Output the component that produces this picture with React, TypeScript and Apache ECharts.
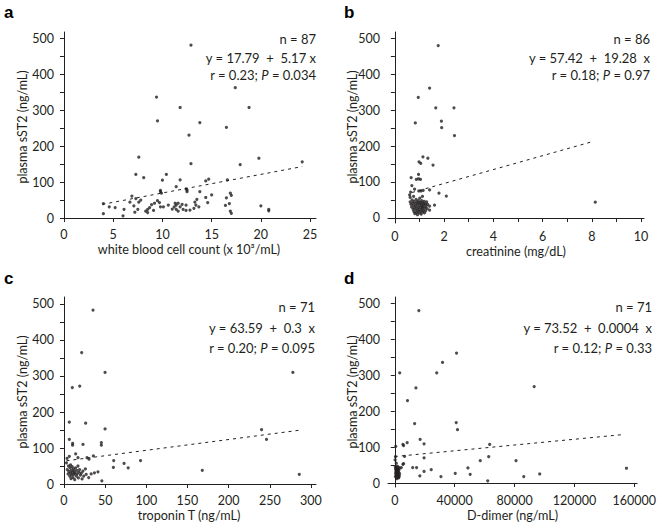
import React, { useEffect, useRef } from "react";
import * as echarts from "echarts";

// ---------- data ----------
const wbcPoints: number[][] = [
  [12.9, 480], [9.4, 336], [11.8, 307], [17.4, 362], [18.8, 307], [9.5, 270], [13.8, 265], [16.5, 252],
  [12.7, 230], [7.6, 169], [19.8, 166], [12.9, 151], [17.9, 148], [24.2, 156], [7.3, 121], [8.1, 112],
  [10.4, 121], [10.0, 105], [11.8, 106], [14.4, 103], [14.7, 108], [16.6, 106], [11.4, 87], [12.4, 81],
  [12.5, 73], [9.8, 73], [9.9, 69], [13.8, 73], [15.0, 64], [16.9, 69], [17.0, 63], [16.5, 56],
  [14.4, 57], [14.6, 43], [16.4, 35], [16.8, 40], [16.9, 19], [17.0, 13], [20.0, 34], [20.8, 24],
  [20.8, 20], [4.0, 40], [4.6, 31], [4.0, 12], [6.1, 24], [6.0, 6], [6.9, 61], [6.7, 44],
  [7.3, 54], [7.6, 44], [7.8, 50], [7.2, 16], [7.5, 24], [8.5, 24], [8.5, 15], [8.7, 29],
  [8.9, 37], [9.2, 41], [9.5, 48], [9.7, 43], [9.1, 21], [9.8, 31], [10.1, 31], [11.3, 41],
  [11.2, 31], [11.4, 24], [11.6, 41], [11.0, 25], [11.6, 19], [12.0, 38], [12.4, 36], [12.1, 24],
  [12.8, 22], [13.3, 44], [13.4, 36], [13.2, 27], [13.5, 52], [12.4, 21], [9.8, 77], [7.1, 34],
  [5.2, 29], [8.3, 19], [10.6, 36], [11.4, 36], [12.5, 78], [11.8, 31], [13.7, 31],
];

const creatininePoints: number[][] = [
  [1.76, 479], [1.41, 361], [0.95, 335], [1.66, 306], [2.4, 306], [0.83, 264], [1.89, 269], [1.9, 251],
  [2.42, 229], [1.14, 170], [1.34, 166], [0.98, 156], [1.05, 152], [1.55, 147], [0.66, 112], [0.96, 121],
  [0.87, 107], [0.96, 109], [1.04, 107], [0.69, 90], [0.8, 80], [0.97, 75], [1.06, 75], [1.15, 77],
  [0.64, 72], [1.41, 78], [1.79, 69], [2.09, 61], [1.61, 36], [1.41, 22], [1.41, 33], [8.14, 44],
  [0.62, 57], [0.6, 64],
  [0.62, 45], [0.65, 38], [0.68, 30], [0.7, 50], [0.72, 42], [0.74, 24], [0.75, 35], [0.77, 18],
  [0.78, 46], [0.8, 28], [0.81, 12], [0.83, 40], [0.84, 33], [0.85, 22], [0.86, 52], [0.88, 15],
  [0.89, 44], [0.9, 27], [0.91, 37], [0.92, 9], [0.94, 19], [0.95, 48], [0.96, 31], [0.97, 41],
  [0.98, 24], [1.0, 14], [1.01, 55], [1.02, 36], [1.03, 44], [1.04, 20], [1.05, 29], [1.07, 11],
  [1.08, 39], [1.09, 48], [1.1, 25], [1.11, 33], [1.12, 17], [1.14, 42], [1.15, 30], [1.16, 22],
  [1.18, 37], [1.19, 46], [1.2, 14], [1.22, 28], [1.24, 39], [1.25, 20], [1.27, 33], [1.29, 45],
  [1.31, 26], [1.33, 38], [1.12, 60], [0.76, 60],
];

const troponinPoints: number[][] = [
  [35.3, 483], [21.5, 365], [49.9, 310], [278, 310], [10.1, 268], [19.1, 272], [6.5, 172], [26.3, 169],
  [49.9, 153], [240, 151], [246, 124], [6.5, 124], [10.5, 113], [10.5, 108], [23.1, 110], [45.4, 115],
  [45.4, 108], [285.8, 27], [168, 38], [46, 9], [93, 65], [60.4, 65], [73, 57], [60, 46],
  [78, 45], [35.7, 78], [28, 73], [30.4, 69], [14.2, 84], [6.5, 77], [3.7, 71], [17, 73],
  [41.3, 34], [3, 59],
  [4, 40], [5, 28], [5.5, 50], [6, 35], [7, 22], [7.5, 45], [8, 30], [8.5, 15],
  [9, 38], [9.5, 25], [10, 48], [10.5, 33], [11, 18], [11.5, 42], [12, 27], [12.5, 36],
  [13, 12], [13.5, 30], [14, 45], [15, 22], [15.5, 38], [16, 28], [17, 50], [17.5, 17],
  [18, 33], [19, 40], [20, 25], [21, 30], [22, 14], [23, 36], [24, 22], [26, 42],
  [27, 27], [30, 18], [33, 28], [37, 31], [8, 53],
];

const ddimerPoints: number[][] = [
  [16065, 479], [41250, 361], [31900, 335], [3256, 306], [28000, 306], [14110, 264], [8470, 229], [93130, 268],
  [41030, 168], [41900, 148], [13240, 165], [650, 102], [5860, 104], [5430, 107], [8250, 112], [16930, 121],
  [19540, 109], [63390, 107], [62740, 73], [57100, 62], [81000, 62], [48850, 42], [50370, 24], [40380, 27],
  [30830, 18], [24320, 37], [19540, 70], [19540, 32], [16720, 20], [14550, 43], [11940, 43], [62090, 6],
  [86180, 18], [96820, 25], [154800, 41], [6510, 74], [5860, 54], [5430, 52], [4340, 43], [434, 73],
  [200, 64],
  [300, 45], [500, 38], [700, 30], [900, 22], [1100, 42], [1200, 15], [1400, 35], [1500, 27],
  [1700, 40], [1800, 18], [2000, 32], [2100, 24], [2300, 44], [2500, 14], [2600, 30], [2800, 37],
  [3000, 20], [3200, 26], [400, 18], [600, 26], [800, 40], [1000, 33], [1300, 12], [1600, 47],
  [1900, 28], [2200, 36], [2400, 21], [2700, 16], [3100, 42], [1000, 55],
];

// regression: [intercept, slope, xStart, xEnd]
const fitA = [17.79, 5.17, 3.9, 24.2];
const fitB = [57.42, 19.28, 0.7, 7.94];
const fitC = [63.59, 0.3, 3, 285];
const fitD = [73.52, 0.0004, 0, 151000];

const yTicks = [0, 50, 100, 150, 200, 250, 300, 350, 400, 450, 500];
const yLabels = [0, 100, 200, 300, 400, 500];
const xTicksA = [0, 5, 10, 15, 20, 25];
const xTicksB = [0, 1, 2, 3, 4, 5, 6, 7, 8, 9, 10];
const xLabelsB = [0, 2, 4, 6, 8, 10];
const xTicksC = [0, 50, 100, 150, 200, 250, 300];
const xTicksD = [0, 40000, 80000, 120000, 160000];

const xTitles = [
  "white blood cell count (x 10\u00B3/mL)",
  "creatinine (mg/dL)",
  "troponin T (ng/mL)",
  "D-dimer (ng/mL)",
];
const yTitle = "plasma sST2 (ng/mL)";
const panelLetters = ["a", "b", "c", "d"];
const statN = ["n = 87", "n = 86", "n = 71", "n = 71"];
const statEq = [
  "y = 17.79  +  5.17 x",
  "y = 57.42  +  19.28  x",
  "y = 63.59  +  0.3  x",
  "y = 73.52  +  0.0004  x",
];
const statR = [
  "r = 0.23; {i|P} = 0.034",
  "r = 0.18; {i|P} = 0.97",
  "r = 0.20; {i|P} = 0.095",
  "r = 0.12; {i|P} = 0.33",
];

const INK = "#231f20";
const FONT = "Lato";

export default function App() {
  const ref = useRef<HTMLDivElement>(null);
  useEffect(() => {
    if (!ref.current) return;
    const chart = echarts.init(ref.current, undefined, { renderer: "svg" });

    const grids = [
      { left: 62, top: 32, width: 254, height: 189 },
      { left: 388, top: 32, width: 256, height: 191 },
      { left: 62, top: 297, width: 254, height: 190 },
      { left: 388, top: 297, width: 256, height: 190 },
    ];
    const xRanges = [
      [-0.2, 25.6],
      [-0.28, 10.12],
      [-2.4, 306.1],
      [-4553, 161951],
    ];
    const yRanges = [
      [-8.3, 516.7],
      [-13.9, 516.7],
      [-8.3, 519.4],
      [-11.1, 516.7],
    ];
    const xTickSets = [xTicksA, xTicksB, xTicksC, xTicksD];
    const xLabelSets = [xTicksA, xLabelsB, xTicksC, xTicksD];
    const pointSets = [wbcPoints, creatininePoints, troponinPoints, ddimerPoints];
    const fits = [fitA, fitB, fitC, fitD];

    const axisLine = { show: true, lineStyle: { color: INK, width: 1 } };
    const labelStyle = { color: INK, fontFamily: FONT, fontSize: 12.5 };

    const xAxis = grids.map((_, i) => ({
      type: "value",
      gridIndex: i,
      min: xRanges[i][0],
      max: xRanges[i][1],
      axisLine,
      axisTick: { show: true, length: 4, customValues: xTickSets[i], lineStyle: { color: INK } },
      axisLabel: {
        ...labelStyle,
        margin: 7,
        customValues: xLabelSets[i],
        formatter: (v: number) => String(v),
      },
      splitLine: { show: false },
      name: xTitles[i],
      nameLocation: "middle",
      nameGap: 22,
      nameTextStyle: { ...labelStyle, fontSize: 12.6 },
    }));

    const yAxis = grids.map((_, i) => ({
      type: "value",
      gridIndex: i,
      min: yRanges[i][0],
      max: yRanges[i][1],
      axisLine,
      axisTick: { show: true, length: 4, customValues: yTicks, lineStyle: { color: INK } },
      axisLabel: {
        ...labelStyle,
        margin: 8,
        customValues: yLabels,
        formatter: (v: number) => String(v),
      },
      splitLine: { show: false },
    }));

    const series: any[] = [];
    pointSets.forEach((pts, i) => {
      series.push({
        type: "scatter",
        xAxisIndex: i,
        yAxisIndex: i,
        data: pts,
        symbolSize: 3.2,
        itemStyle: { color: INK },
      });
      const f = fits[i];
      series.push({
        type: "line",
        xAxisIndex: i,
        yAxisIndex: i,
        data: [
          [f[2], f[0] + f[1] * f[2]],
          [f[3], f[0] + f[1] * f[3]],
        ],
        symbol: "none",
        lineStyle: { color: INK, width: 1, type: [3, 4] },
      });
    });

    const graphic: any[] = [];
    const letterPos = [
      [4, 12],
      [344, 12],
      [4, 278],
      [344, 278],
    ];
    const yTitlePos = [
      [22, 127],
      [352, 127],
      [22, 392],
      [352, 392],
    ];
    const statRight = [316, 650, 315, 652];
    const statTop = [
      [39, 57.5, 75],
      [39, 57.5, 75],
      [307, 328, 348],
      [307, 328, 348],
    ];
    for (let i = 0; i < 4; i++) {
      graphic.push({
        type: "text",
        x: letterPos[i][0],
        y: letterPos[i][1],
        style: {
          text: panelLetters[i],
          fill: "#000",
          font: "bold 17px 'Liberation Sans', Arial, sans-serif",
          verticalAlign: "middle",
        },
      });
      graphic.push({
        type: "text",
        x: yTitlePos[i][0],
        y: yTitlePos[i][1],
        rotation: Math.PI / 2,
        style: {
          text: yTitle,
          fill: INK,
          font: `12.5px ${FONT}`,
          align: "center",
          verticalAlign: "middle",
        },
      });
      const lines = [statN[i], statEq[i], statR[i]];
      lines.forEach((t, k) => {
        graphic.push({
          type: "text",
          x: statRight[i],
          y: statTop[i][k],
          style: {
            text: t,
            fill: INK,
            font: `13px ${FONT}`,
            align: "right",
            verticalAlign: "middle",
            rich: { i: { fontStyle: "italic", fontFamily: FONT, fontSize: 13, fill: INK } },
          },
        });
      });
    }

    chart.setOption({
      animation: false,
      backgroundColor: "#fff",
      grid: grids,
      xAxis,
      yAxis,
      series,
      graphic,
    });
    return () => chart.dispose();
  }, []);
  return <div ref={ref} style={{ width: 659, height: 527, position: "absolute", left: 0, top: 0 }} />;
}
